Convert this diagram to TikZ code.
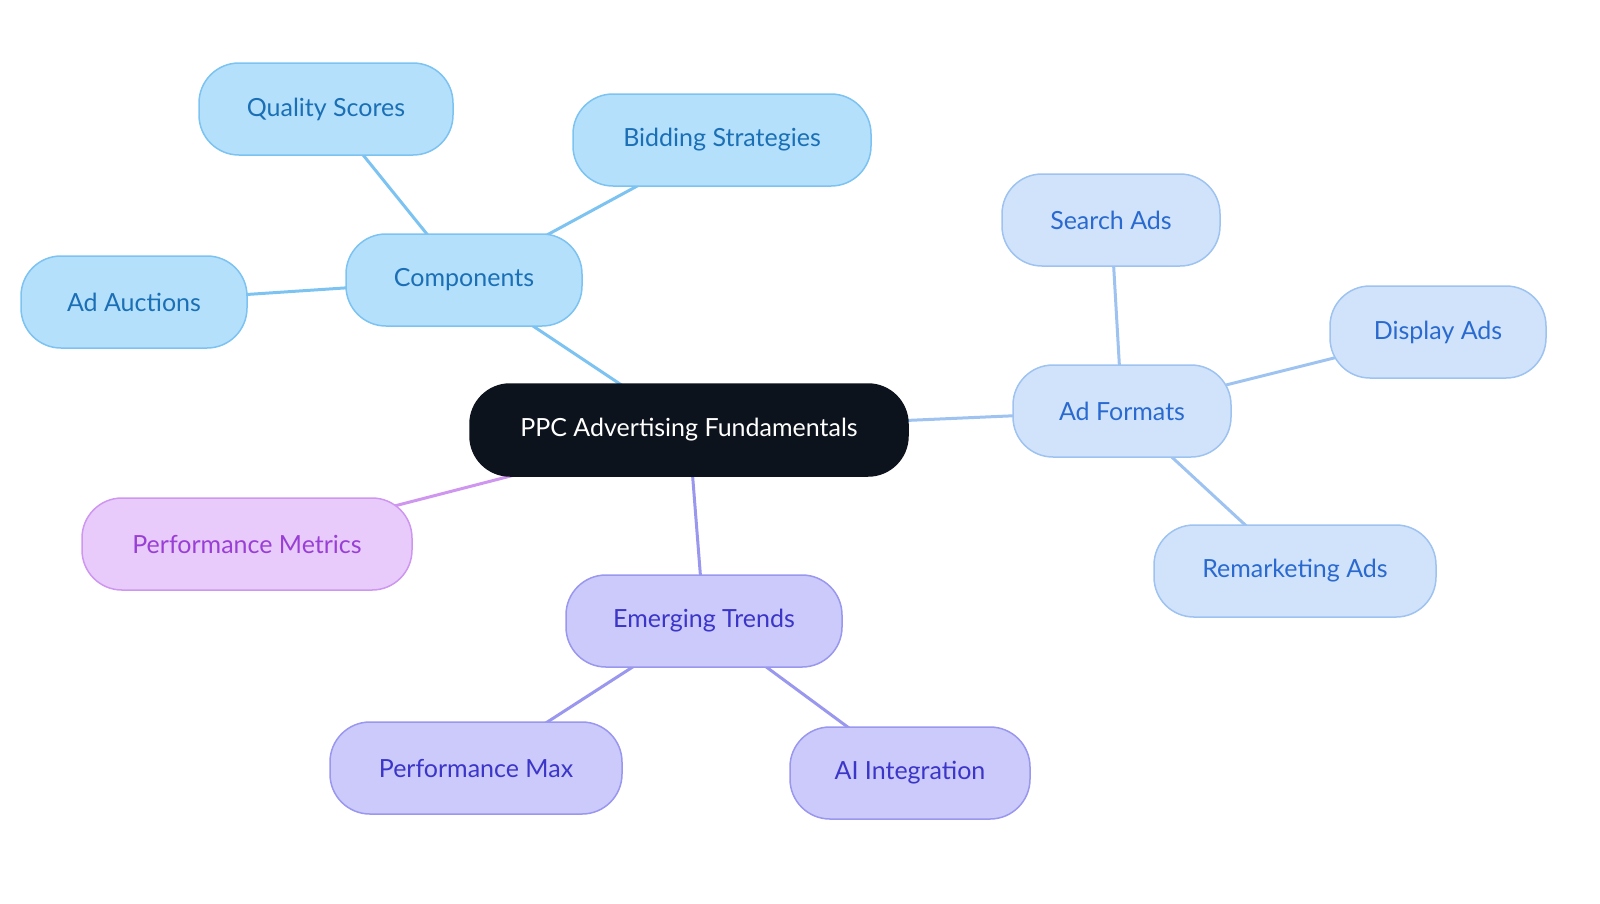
\documentclass[tikz,border=0pt]{standalone}
\usepackage{fontspec}
\setmainfont{Lato}
\usetikzlibrary{backgrounds}
\definecolor{rootf}{HTML}{0D131C}
\definecolor{bf}{HTML}{B5E0FC}\definecolor{bd}{HTML}{7CC3F2}\definecolor{bt}{HTML}{1A6FB5}
\definecolor{lf}{HTML}{D0E3FA}\definecolor{ld}{HTML}{9EC3F0}\definecolor{lt}{HTML}{2A6AD0}
\definecolor{pf}{HTML}{E8CBFB}\definecolor{pd}{HTML}{CF96F0}\definecolor{pt}{HTML}{9A3FD6}
\definecolor{vf}{HTML}{CBCAFB}\definecolor{vd}{HTML}{9A97EE}\definecolor{vt}{HTML}{3B35C8}
\begin{document}
\begin{tikzpicture}[x=1pt,y=-1pt,
  box/.style={rounded corners=40pt,minimum height=92pt,line width=1.5pt,font=\fontsize{25}{30}\selectfont,inner sep=0pt},
  blue/.style={box,fill=bf,draw=bd,text=bt},
  lblue/.style={box,fill=lf,draw=ld,text=lt},
  purp/.style={box,fill=pf,draw=pd,text=pt},
  viol/.style={box,fill=vf,draw=vd,text=vt},
  e/.style={line width=3pt}]
\useasboundingbox (0,0) rectangle (1600,903);
\node[box,fill=rootf,text=white,draw=rootf,minimum width=438pt] (root) at (689,430) {PPC Advertising Fundamentals};
\node[blue,minimum width=236pt] (comp) at (464,280) {Components};
\node[blue,minimum width=254pt] (qs) at (326,109) {Quality Scores};
\node[blue,minimum width=298pt] (bs) at (722,140) {Bidding Strategies};
\node[blue,minimum width=226pt] (aa) at (134,302) {Ad Auctions};
\node[lblue,minimum width=218pt] (af) at (1122,411) {Ad Formats};
\node[lblue,minimum width=218pt] (sa) at (1111,220) {Search Ads};
\node[lblue,minimum width=216pt] (da) at (1438,332) {Display Ads};
\node[lblue,minimum width=282pt] (ra) at (1295,571) {Remarketing Ads};
\node[purp,minimum width=330pt] (pm) at (247,544) {Performance Metrics};
\node[viol,minimum width=276pt] (et) at (704,621) {Emerging Trends};
\node[viol,minimum width=292pt] (px) at (476,768) {Performance Max};
\node[viol,minimum width=240pt] (ai) at (910,773) {AI Integration};
\begin{scope}[on background layer]
\draw[e,bd] (root.center) -- (comp.center);
\draw[e,bd] (comp.center) -- (qs.center);
\draw[e,bd] (comp.center) -- (bs.center);
\draw[e,bd] (comp.center) -- (aa.center);
\draw[e,ld] (root.center) -- (af.center);
\draw[e,ld] (af.center) -- (sa.center);
\draw[e,ld] (af.center) -- (da.center);
\draw[e,ld] (af.center) -- (ra.center);
\draw[e,pd] (root.center) -- (pm.center);
\draw[e,vd] (root.center) -- (et.center);
\draw[e,vd] (et.center) -- (px.center);
\draw[e,vd] (et.center) -- (ai.center);
\end{scope}
\end{tikzpicture}
\end{document}
